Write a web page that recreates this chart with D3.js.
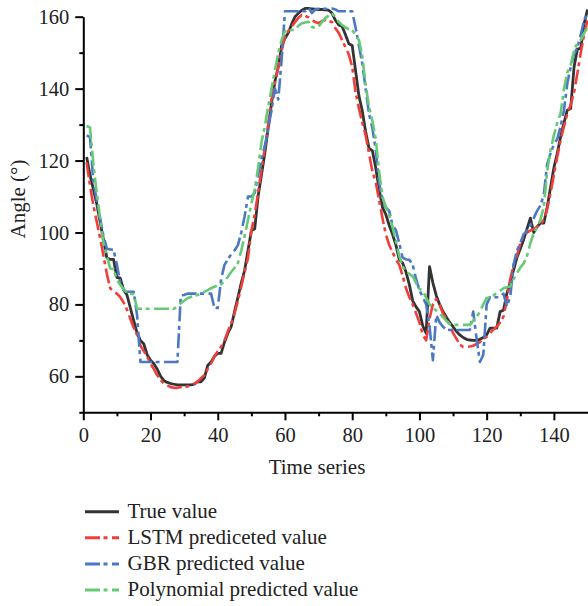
<!DOCTYPE html>
<html>
<head>
<meta charset="utf-8">
<script src="https://cdn.jsdelivr.net/npm/d3@7"></script>
<style>
  body { margin: 0; background: #fff; }
  svg { display: block; }
  text { font-family: "Liberation Serif", "DejaVu Serif", serif; fill: #222; }
</style>
</head>
<body>
<svg width="588" height="606"></svg>
<script>
// time index of each sample
const timeSteps = d3.range(1, 151);

const trueValue = [
  121, 116, 112, 108, 103, 98, 93, 92.5, 92.5, 87.5,
  87.3, 84, 82.6, 79, 75.5, 72, 70, 69, 66, 64.5,
  63.5, 62, 60, 58.8, 58.3, 58, 57.8, 57.6, 57.6, 57.6,
  57.6, 57.6, 57.8, 58.5, 58.5, 59.5, 63, 64, 65.5, 66.4,
  66.4, 69.5, 72, 73.8, 78, 82, 86, 89.5, 95, 100.5,
  101, 110, 116, 122, 129, 136, 142, 146, 152, 154,
  155.5, 158, 160, 161, 161.8, 162.3, 162.3, 162.2, 162.1, 162,
  162, 161.9, 161.8, 161, 159, 157.7, 157.3, 155, 152.5, 152,
  145, 138, 133.8, 128, 123.5, 122.7, 118, 112, 107, 105,
  102, 99.5, 96.5, 92.5, 91.5, 89, 85.5, 81, 79.3, 78,
  74, 72, 90.5, 86, 82.5, 80, 78, 76.5, 75, 73.8,
  72.5, 71.5, 70.8, 70.3, 70.1, 70, 70, 70.3, 70.8, 71.5,
  73.4, 73.4, 73.4, 78, 78.4, 83, 86, 89.5, 93, 95.5,
  98, 101, 104, 100, 101.6, 102.6, 102.6, 107, 112.5, 118,
  122, 126.6, 130.5, 134, 134.5, 146, 151, 151.2, 158, 162
];

const lstmValue = [
  119.5, 113, 107.5, 103, 98.5, 93.5, 88.5, 84.5, 83.5, 83,
  82, 80.5, 78.5, 76, 73.5, 71.5, 68.5, 67, 65.5, 63.5,
  62, 60.3, 59, 58, 57.5, 57, 56.8, 56.8, 57, 57.1,
  57.2, 57.5, 58, 58.5, 59.5, 60.3, 62, 63.5, 65.5, 67,
  68.2, 70, 72.5, 74.7, 77.5, 81, 85, 89, 93, 100.5,
  105, 111, 117.5, 123.5, 130, 137, 141.5, 146, 150.5, 154.5,
  156, 157.3, 158.5, 159.7, 160.5, 160.3, 159.8, 159.2, 158.5, 158.2,
  158.8, 159.1, 158.8, 158.5, 156.8, 155.5, 153.5, 151.5, 149.5, 146,
  139, 134.5, 130.5, 127, 122, 117, 114, 109, 104, 99.5,
  96.5, 94.5, 92.5, 91, 88, 84.5, 82, 80, 77.5, 75,
  71.5, 70, 76, 80, 81.5, 80, 77.5, 76, 74.5, 72,
  70.5, 68.8, 68.2, 68.2, 68.3, 68.5, 69, 69.5, 70.5, 71,
  72, 73, 73.8, 75, 76.6, 81, 87, 91, 93.5, 97,
  99, 100, 100.5, 101, 101.5, 102.3, 103.5, 106.5, 111, 116,
  121, 125.7, 129.5, 133, 135.5, 139, 144.3, 150, 155, 159
];

const gbrValue = [
  127, 126.5, 114, 109, 104, 99, 95.5, 95.3, 95.2, 91,
  86, 84, 83.5, 83.5, 83.5, 77, 64, 64, 64, 64,
  64, 64, 64, 64, 64, 64, 64, 64, 82.5, 82.6,
  83, 83, 83, 83, 83, 83, 83, 83, 79, 79,
  87, 91, 92.5, 94, 95, 96.5, 100, 104.5, 110, 110,
  111, 116, 120.5, 124, 129, 134, 140, 137, 148, 161.5,
  161.5, 161.5, 161.5, 161.5, 161.5, 161.5, 162.5, 161, 162, 162.2,
  162.2, 162.2, 162.2, 162.3, 162, 161.5, 161.5, 161.5, 161.5, 161.5,
  157, 152, 147, 140, 133, 129, 123, 114, 109, 107,
  106, 102, 100.7, 97, 93, 92.5, 92.4, 91, 87, 84,
  82, 80, 74, 64.5, 77, 75, 73.8, 73, 72.9, 72.9,
  72.9, 72.9, 72.9, 72.9, 72.9, 78, 70.5, 64, 66, 80,
  82, 82, 82, 82, 83, 79.5, 82, 91, 95, 97,
  99.5, 100.5, 102, 104, 106, 107.5, 110.5, 119, 122, 124.5,
  126, 129.5, 134, 141.5, 146, 149.5, 151.5, 155, 159, 161
];

const polyValue = [
  129.6, 129.2, 119, 111, 104, 97, 93.5, 90, 89.8, 86.8,
  85.5, 84.2, 83.3, 83, 82.8, 78.8, 78.8, 78.8, 78.8, 78.8,
  78.8, 78.8, 78.8, 78.8, 78.8, 78.8, 78.8, 79.5, 80.3, 81,
  81.7, 82.1, 82.4, 82.6, 83, 83.5, 84, 84.5, 84.9, 85.3,
  85.6, 86.5, 87.7, 89, 90.2, 91.5, 95, 99, 103.5, 108,
  112, 118, 125, 129.5, 135, 140, 145, 150, 153.5, 156,
  156.2, 156.3, 156.3, 157.5, 158.2, 158.4, 158.6, 157.2, 156.8, 157.2,
  158.5, 159.6, 160.3, 160.8, 160, 158.5, 157.7, 157, 156.5, 156.3,
  155, 153.5, 149, 141, 135, 131, 126, 117, 110, 107,
  105, 101.5, 97.5, 93.5, 90.5, 89.3, 88.5, 87.8, 86, 84.3,
  83.8, 81.8, 80, 79, 78.3, 77.5, 76.5, 75.5, 74.5, 74.3,
  74.3, 74.3, 74.3, 74.3, 74.3, 75.5, 76.5, 78, 80, 81.8,
  82, 82.5, 83.2, 83.8, 84.5, 84.8, 85, 87, 88.7, 90.2,
  91.4, 93.5, 97, 99.8, 101.5, 103.5, 107.2, 117, 122.9, 127,
  130.5, 133.1, 140, 144.5, 146.6, 150.5, 152.8, 153.5, 155.5, 157
];

const seriesNames = ["True value", "LSTM prediceted value", "GBR predicted value", "Polynomial predicted value"];
const seriesColors = ["#333333", "#ee3f3a", "#4a78c4", "#66c975"];
const seriesDash = [null, "15,3.5,4,4.5", "15,3.5,4,4.5", "15,3.5,4,4.5"];
const allSeries = [trueValue, lstmValue, gbrValue, polyValue];

const xMajor = [0, 20, 40, 60, 80, 100, 120, 140];
const xMinor = [10, 30, 50, 70, 90, 110, 130];
const yMajor = [60, 80, 100, 120, 140, 160];
const yMinor = [50, 70, 90, 110, 130, 150];

const svg = d3.select("svg");

const x = d3.scaleLinear().domain([0, 150]).range([83.3, 587.5]);
const y = d3.scaleLinear().domain([50, 160]).range([412.3, 16.7]);

// axes
svg.append("g")
  .attr("transform", "translate(0,412.3)")
  .call(d3.axisBottom(x).tickValues(xMajor).tickFormat(d3.format("d"))
    .tickSizeInner(8).tickSizeOuter(0).tickPadding(7));
svg.append("g")
  .attr("transform", "translate(0,412.3)")
  .call(d3.axisBottom(x).tickValues(xMinor).tickFormat("").tickSizeInner(4).tickSizeOuter(0))
  .select(".domain").remove();

svg.append("g")
  .attr("transform", "translate(83.3,0)")
  .call(d3.axisLeft(y).tickValues(yMajor).tickFormat(d3.format("d"))
    .tickSizeInner(8).tickSizeOuter(0).tickPadding(6));
svg.append("g")
  .attr("transform", "translate(83.3,0)")
  .call(d3.axisLeft(y).tickValues(yMinor).tickFormat("").tickSizeInner(4).tickSizeOuter(0))
  .select(".domain").remove();

svg.selectAll(".domain, .tick line")
  .attr("stroke", "#000")
  .attr("stroke-width", 2);
svg.selectAll(".tick text")
  .style("font-family", "'Liberation Serif', serif")
  .style("font-size", "20.5px")
  .attr("fill", "#222");

// axis titles
svg.append("text")
  .attr("x", 317)
  .attr("y", 474)
  .attr("text-anchor", "middle")
  .style("font-size", "21px")
  .text("Time series");

svg.append("text")
  .attr("transform", "translate(25,199) rotate(-90)")
  .attr("text-anchor", "middle")
  .style("font-size", "21px")
  .text("Angle (°)");

// lines
const line = d3.line()
  .x((d, i) => x(timeSteps[i]))
  .y(d => y(d));

allSeries.forEach((s, k) => {
  svg.append("path")
    .datum(s)
    .attr("fill", "none")
    .attr("stroke", seriesColors[k])
    .attr("stroke-width", k === 0 ? 2.8 : 2.6)
    .attr("stroke-linejoin", "round")
    .attr("stroke-dasharray", seriesDash[k])
    .attr("d", line);
});

// legend
const legend = svg.append("g");
seriesNames.forEach((name, k) => {
  const ly = 511.7 + k * 26.1;
  legend.append("line")
    .attr("x1", 85).attr("x2", 119)
    .attr("y1", ly).attr("y2", ly)
    .attr("stroke", seriesColors[k])
    .attr("stroke-width", 3)
    .attr("stroke-dasharray", seriesDash[k]);
  legend.append("text")
    .attr("x", 127.5)
    .attr("y", ly + 6)
    .style("font-size", "21px")
    .text(name);
});
</script>
</body>
</html>
